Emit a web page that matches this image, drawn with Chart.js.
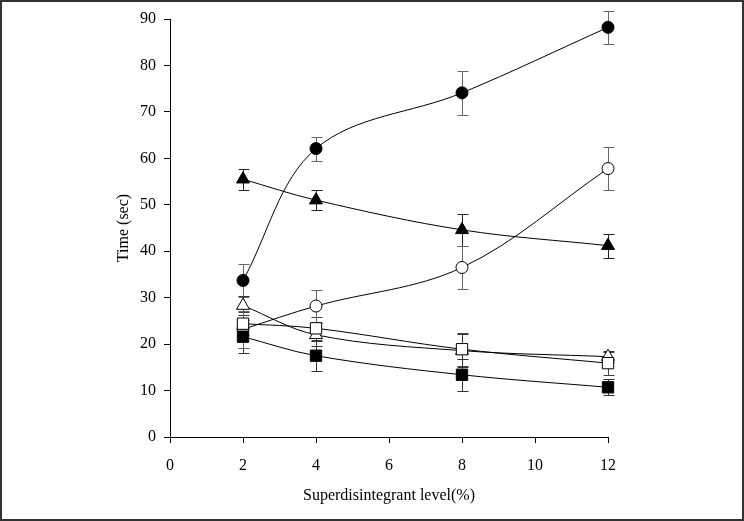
<!DOCTYPE html>
<html>
<head>
<meta charset="utf-8">
<script src="https://cdn.jsdelivr.net/npm/chart.js@4/dist/chart.umd.min.js"></script>
<style>
html,body{margin:0;padding:0;background:#fff;}
#wrap{width:744px;height:521px;position:relative;}
</style>
</head>
<body>
<div id="wrap"><canvas id="c" width="744" height="521"></canvas></div>
<script>
// ---- data ----
const levels = [2, 4, 8, 12];
const xTicks = [0, 2, 4, 6, 8, 10, 12];
const yTicks = [0, 10, 20, 30, 40, 50, 60, 70, 80, 90];

const filledCircle   = [33.7, 62.1, 74.1, 88.2];
const filledCircleErr= [3.5, 2.6, 4.7, 3.5];
const openCircle     = [23.2, 28.2, 36.5, 57.8];
const openCircleErr  = [4.0, 3.5, 4.7, 4.7];
const filledTriangle = [55.5, 51.0, 44.6, 41.2];
const filledTriangleErr = [2.3, 2.2, 3.4, 2.6];
const openTriangle   = [28.3, 22.0, 18.6, 17.3];
const openTriangleErr= [2.0, 2.5, 3.5, 1.2];
const openSquare     = [24.4, 23.4, 18.9, 15.9];
const openSquareErr  = [2.5, 2.5, 3.6, 2.5];
const filledSquare   = [21.6, 17.5, 13.4, 10.7];
const filledSquareErr= [3.5, 3.2, 3.5, 1.7];

function pts(vals){ return levels.map((x,i)=>({x:x, y:vals[i]})); }

function ds(label, vals, errs, style, filled, r, errColor){
  return {
    label: label,
    data: pts(vals),
    errors: errs,
    errColor: errColor,
    borderColor: '#000',
    borderWidth: 1,
    pointStyle: style,
    pointRadius: r,
    pointHoverRadius: r,
    pointBackgroundColor: filled ? '#000' : '#fff',
    pointBorderColor: '#000',
    pointBorderWidth: 1,
    tension: 0.35,
    fill: false,
    clip: false
  };
}

const errorBars = {
  id: 'errorBars',
  beforeDatasetsDraw(chart){
    const ctx = chart.ctx;
    const ys = chart.scales.y, xs = chart.scales.x;
    chart.data.datasets.forEach((d)=>{
      ctx.save();
      ctx.strokeStyle = d.errColor;
      ctx.lineWidth = 1;
      d.data.forEach((p,i)=>{
        const e = d.errors[i];
        const px = Math.round(xs.getPixelForValue(p.x)) + 0.5;
        const y1 = Math.round(ys.getPixelForValue(p.y + e)) + 0.5;
        const y2 = Math.round(ys.getPixelForValue(p.y - e)) + 0.5;
        ctx.beginPath();
        ctx.moveTo(px, y1); ctx.lineTo(px, y2);
        ctx.moveTo(px - 5, y1); ctx.lineTo(px + 6, y1);
        ctx.moveTo(px - 5, y2); ctx.lineTo(px + 6, y2);
        ctx.stroke();
      });
      ctx.restore();
    });
  },
  afterDraw(chart){
    const ctx = chart.ctx;
    ctx.save();
    ctx.strokeStyle = '#333';
    ctx.lineWidth = 2;
    ctx.strokeRect(1, 1, chart.width - 2, chart.height - 2);
    ctx.restore();
  }
};

const font = {family: '"Liberation Serif", "Times New Roman", serif', size: 16};

new Chart(document.getElementById('c'), {
  type: 'line',
  data: {
    datasets: [
      ds('open square', openSquare, openSquareErr, 'rect', false, 8, '#444'),
      ds('filled square', filledSquare, filledSquareErr, 'rect', true, 8, '#333'),
      ds('filled circle', filledCircle, filledCircleErr, 'circle', true, 6, '#666'),
      ds('filled triangle', filledTriangle, filledTriangleErr, 'triangle', true, 7.5, '#222'),
      ds('open triangle', openTriangle, openTriangleErr, 'triangle', false, 7.5, '#333'),
      ds('open circle', openCircle, openCircleErr, 'circle', false, 6, '#666')
    ]
  },
  options: {
    responsive: false,
    animation: false,
    events: [],
    layout: {padding: {left: 110, right: 136, top: 19, bottom: 12}},
    plugins: {legend: {display: false}, tooltip: {enabled: false}},
    scales: {
      x: {
        type: 'linear',
        min: 0, max: 12,
        afterBuildTicks(s){ s.ticks = xTicks.map(v=>({value:v})); },
        afterFit(s){ s.height = 72; },
        grid: {drawOnChartArea: false, color: '#000', tickLength: 6, tickWidth: 1},
        border: {color: '#000', width: 1},
        ticks: {color: '#000', font: font, padding: 13, maxRotation: 0},
        title: {display: true, text: 'Superdisintegrant level(%)', color: '#000', font: font, padding: {top: 13}}
      },
      y: {
        type: 'linear',
        min: 0, max: 90,
        afterBuildTicks(s){ s.ticks = yTicks.map(v=>({value:v})); },
        afterFit(s){ s.width = 60; },
        grid: {drawOnChartArea: false, color: '#000', tickLength: 6, tickWidth: 1},
        border: {color: '#000', width: 1},
        ticks: {color: '#000', font: font, padding: 8},
        title: {display: true, text: 'Time (sec)', color: '#000', font: font, padding: {bottom: 0}}
      }
    }
  },
  plugins: [errorBars]
});
</script>
</body>
</html>
